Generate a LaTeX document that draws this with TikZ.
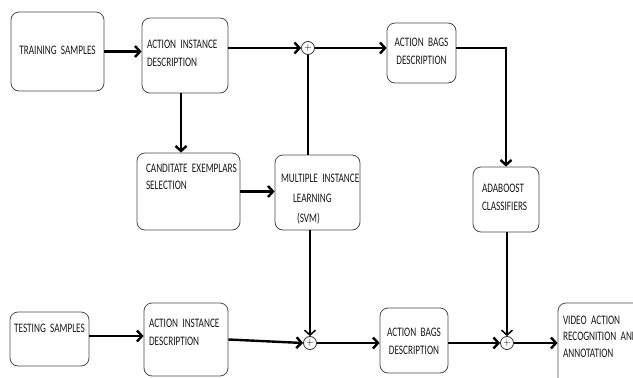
\documentclass[tikz,border=0pt]{standalone}
\usepackage{fontspec}
\usetikzlibrary{arrows.meta}
\newfontfamily\boxfont[FakeStretch=0.71]{Carlito}

\begin{document}
\begin{tikzpicture}[x=1pt,y=-1pt,
  blk/.style={draw=black!70,line width=.8pt,rounded corners=8pt,fill=white,text=black!90,
    font=\boxfont\fontsize{13}{18.3}\selectfont,inner ysep=0pt,text height=0pt,align=left},
  sum/.style={draw=black!80,circle,line width=.8pt,fill=white,minimum size=13pt,inner sep=0pt,font=\normalsize},
  tip/.style={-{Straight Barb[length=5pt,width=11pt]}},
  flow/.style={tip,line width=2.4pt},
  link/.style={line width=1.5pt}]
\useasboundingbox (0,0) rectangle (633,378);
\clip (0,0) rectangle (633,378);
\node[blk,align=center,minimum width=93pt,minimum height=79pt,text width=85pt,inner xsep=4pt,text height=8.6pt,text depth=3pt] (tr) at (57.5,51.5) {\mbox{TRAINING SAMPLES}};
\node[blk,minimum width=86pt,minimum height=75pt,text width=76pt,inner xsep=5pt,text depth=14.4pt] (ai1) at (185,55.5) {\mbox{ACTION INSTANCE}\\DESCRIPTION};
\node[blk,minimum width=103pt,minimum height=77pt,text width=85pt,inner xsep=9pt,text depth=37.8pt] (ce) at (188.5,191.5) {\mbox{CANDITATE EXEMPLARS}\\[-1.6pt]SELECTION};
\node[blk,minimum width=85pt,minimum height=75pt,text width=73pt,inner xsep=6pt,text depth=19.8pt] (mil) at (317.5,192.5) {\mbox{MULTIPLE INSTANCE}\\[1.7pt]\hspace*{12pt}LEARNING\\[1.7pt]\hspace*{16pt}(SVM)};
\node[blk,align=center,minimum width=69pt,minimum height=60pt,text width=63pt,inner xsep=3pt,text depth=14pt] (ab1) at (421.5,53) {\mbox{ACTION BAGS}\\DESCRIPTION};
\node[blk,minimum width=66pt,minimum height=65pt,text width=48pt,inner xsep=9pt,text depth=15pt] (ada) at (506,199.5) {ADABOOST\\CLASSIFIERS};
\node[blk,align=center,minimum width=79pt,minimum height=54pt,text width=73pt,inner xsep=3pt,text depth=13.4pt] (ts) at (49.5,339) {\mbox{TESTING SAMPLES}};
\node[blk,minimum width=84pt,minimum height=73pt,text width=74pt,inner xsep=5pt,text depth=23.8pt] (ai2) at (186,339.5) {\mbox{ACTION INSTANCE}\\DESCRIPTION};
\node[blk,align=center,minimum width=68pt,minimum height=65pt,text width=62pt,inner xsep=3pt,text depth=9pt] (ab2) at (414,340.5) {\mbox{ACTION BAGS}\\DESCRIPTION};
\node[blk,minimum width=100pt,minimum height=83pt,text width=90pt,inner xsep=5pt,text depth=40.4pt] (va) at (608,344.5) {\mbox{VIDEO ACTION}\\[-1.8pt]\mbox{RECOGNITION AND}\\[-1.8pt]ANNOTATION};
\node[sum] (p1) at (308,48) {+};
\node[sum] (p2) at (310,343) {+};
\node[sum] (p3) at (507,343) {+};
\draw[flow] (tr.east) -- (tr.east -| ai1.west);
\draw[flow] (ai1.east |- p1) -- (p1.west);
\draw[flow] ([xshift=-4pt]ai1.south) -- ([xshift=-4pt]ai1.south |- ce.north);
\draw[flow] (ce.east) -- (ce.east -| mil.west);
\draw[link] (mil.north -| p1) -- (p1.south);
\draw[flow] (p1.east) -- (p1.east -| ab1.west);
\draw[flow] (ab1.east |- p1) -| (ada.north);
\draw[link,tip] (mil.south -| p2) -- (p2.north);
\draw[flow] ([yshift=3pt]ts.east) -- ([yshift=3pt]ts.east -| ai2.west);
\draw[flow] (ai2.east) -- (p2.west);
\draw[flow] (p2.east) -- (p2.east -| ab2.west);
\draw[flow] (ab2.east |- p3) -- (p3.west);
\draw[link,tip] (ada.south -| p3) -- (p3.north);
\draw[flow] (p3.east) -- (p3.east -| va.west);
\end{tikzpicture}
\end{document}
